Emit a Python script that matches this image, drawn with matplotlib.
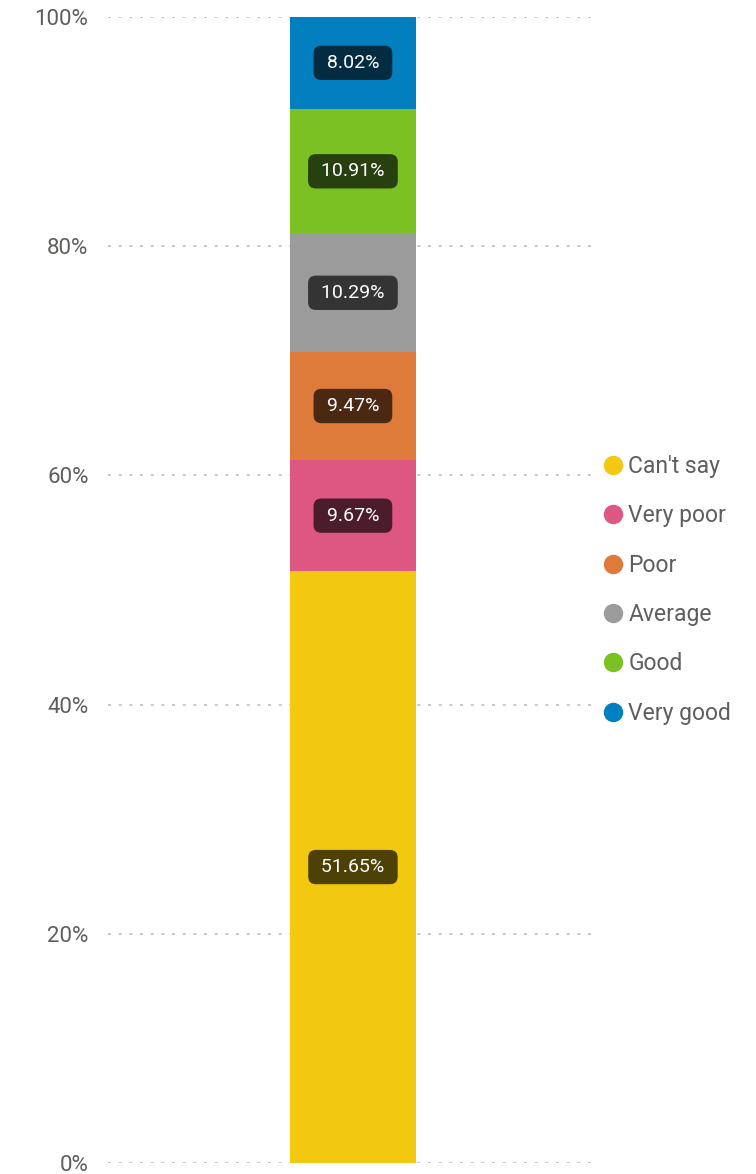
import matplotlib
matplotlib.use("Agg")
import matplotlib.pyplot as plt
from matplotlib.lines import Line2D

# data
categories = ["Can't say", "Very poor", "Poor", "Average", "Good", "Very good"]
values = [51.65, 9.67, 9.47, 10.29, 10.91, 8.02]
colors = ["#F2C811", "#DE5682", "#DE7A3A", "#9B9B9B", "#7CC123", "#017FBE"]
box_colors = ["#4E4106", "#4B1C2C", "#4A2812", "#343434", "#284010", "#042C40"]
yticks = [0, 20, 40, 60, 80, 100]
ytick_labels = ["0%", "20%", "40%", "60%", "80%", "100%"]

plt.rcParams['font.family'] = ['Roboto', 'DejaVu Sans']

fig = plt.figure(figsize=(7.56, 11.74), dpi=100)
ax = fig.add_axes([108 / 756, 11 / 1174, 485 / 756, 1146 / 1174])

bottom = 0
for cat, v, c, bc in zip(categories, values, colors, box_colors):
    ax.bar(0, v, bottom=bottom, width=0.52, color=c, zorder=3, label=cat)
    ax.text(0, bottom + v / 2, f" {v:.2f}% ", ha="center", va="center",
            color="white", fontsize=14, zorder=4,
            bbox=dict(boxstyle="round,pad=0.42,rounding_size=0.4",
                      fc=bc, ec="none"))
    bottom += v

ax.set_xlim(-1.01, 0.99)
ax.set_ylim(0, 100)
ax.set_yticks(yticks)
ax.set_yticklabels(ytick_labels)
ax.set_xticks([])
ax.tick_params(axis="y", length=0, pad=14, labelsize=16, labelcolor="#605E5C")
for s in ax.spines.values():
    s.set_visible(False)
ax.yaxis.grid(True, color="#BDBDBD", linewidth=1.2, linestyle=(0, (1.8, 4.6)), zorder=0)
ax.set_axisbelow(True)

handles = [Line2D([], [], marker="o", linestyle="none", markersize=14,
                  markerfacecolor=c, markeredgecolor="none") for c in colors]
fig.legend(handles, categories, loc="upper left",
           bbox_to_anchor=(603 / 756, 1 - 455 / 1174), frameon=False,
           fontsize=16.5, labelcolor="#605E5C", handletextpad=0.2,
           labelspacing=1.15, handlelength=0.9, borderpad=0, borderaxespad=0)

fig.savefig("out.png", dpi=100)
